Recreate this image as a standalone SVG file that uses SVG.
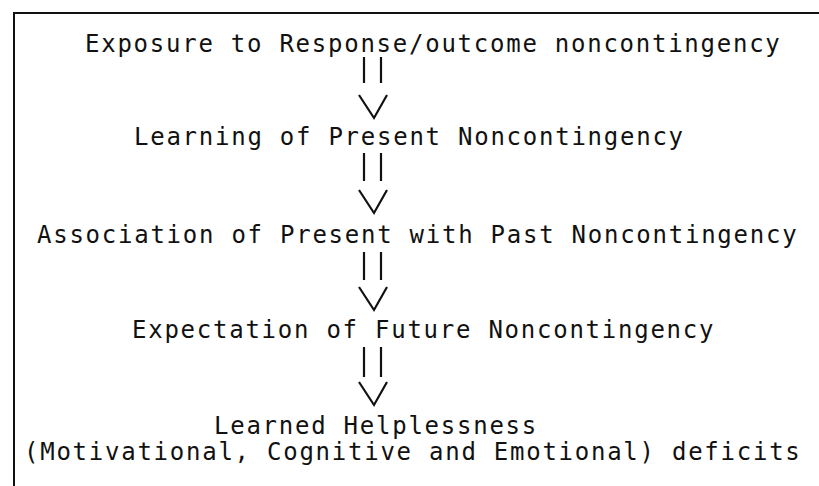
<svg xmlns="http://www.w3.org/2000/svg" width="819" height="486" viewBox="0 0 819 486">
<style>
.t{font-family:"DejaVu Sans Mono","Liberation Mono",monospace;font-size:24px;letter-spacing:1.75px;fill:#111}
.c line,.c path{stroke:#111;stroke-width:2.2;fill:none;stroke-linecap:butt}
.frame{stroke:#111;stroke-width:2;fill:none}
</style>
<rect width="819" height="486" fill="#fff"/>
<path class="frame" d="M14 486 V13 H819"/>
<g id="n1"><text class="t" x="85" y="52">Exposure to Response/outcome noncontingency</text></g>
<g id="n2"><text class="t" x="134" y="145">Learning of Present Noncontingency</text></g>
<g id="n3"><text class="t" x="37" y="243">Association of Present with Past Noncontingency</text></g>
<g id="n4"><text class="t" x="132" y="338">Expectation of Future Noncontingency</text></g>
<g id="n5"><text class="t" x="214" y="434">Learned Helplessness</text><text class="t" x="24" y="460">(Motivational, Cognitive and Emotional) deficits</text></g>
<g class="c" id="connectors">
<g id="e1"><line x1="364" y1="57" x2="364" y2="83"/><line x1="381" y1="57" x2="381" y2="83"/><path d="M359 95 L374 118 L387 95"/></g>
<g id="e2"><line x1="364" y1="153" x2="364" y2="181"/><line x1="381" y1="153" x2="381" y2="181"/><path d="M359 190 L374 213 L387 190"/></g>
<g id="e3"><line x1="364" y1="252" x2="364" y2="280"/><line x1="381" y1="252" x2="381" y2="280"/><path d="M359 287 L374 310 L387 287"/></g>
<g id="e4"><line x1="364" y1="347" x2="364" y2="377"/><line x1="381" y1="347" x2="381" y2="377"/><path d="M359 382 L374 405 L387 382"/></g>
</g>
</svg>
